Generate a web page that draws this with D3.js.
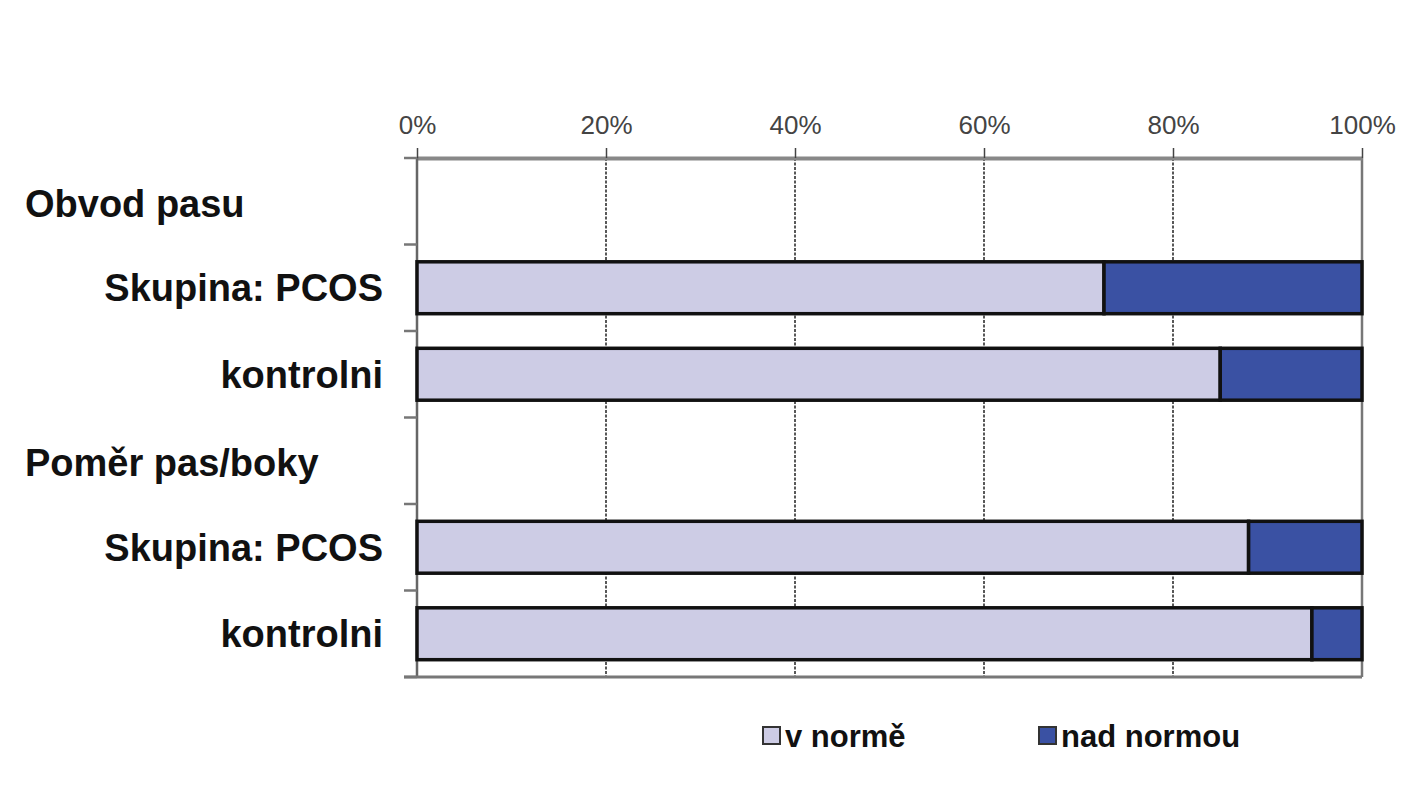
<!DOCTYPE html>
<html>
<head>
<meta charset="utf-8">
<script src="https://cdn.jsdelivr.net/npm/d3@7"></script>
<style>
  body { margin: 0; background: #fff; }
  text { font-family: "Liberation Sans", Arial, sans-serif; }
</style>
</head>
<body>
<svg class="mainsvg" width="1426" height="800"></svg>
<script>
// rows top to bottom, headers have no bar
const rowLabels = ["Obvod pasu", "Skupina: PCOS", "kontrolni", "Poměr pas/boky", "Skupina: PCOS", "kontrolni"];
const rowIsHeader = [true, false, false, true, false, false];
const seriesNames = ["v normě", "nad normou"];
const vNorme = [null, 72.7, 85.0, null, 88.0, 94.7];
const nadNormou = [null, 27.3, 15.0, null, 12.0, 5.3];
const xTicks = [0, 20, 40, 60, 80, 100];

const colors = ["#cdcce5", "#3a51a3"];

const svg = d3.select('.mainsvg');
const plotLeft = 417, plotRight = 1362, plotTop = 158, plotBottom = 677;

const x = d3.scaleLinear().domain([0, 100]).range([plotLeft, plotRight]);
const y = d3.scaleBand().domain(d3.range(rowLabels.length)).range([plotTop, plotBottom]).padding(0);

// grid lines
svg.append('g')
	.selectAll('line')
	.data(xTicks.filter(d => d > 0 && d < 100))
	.enter().append('line')
	.attr('x1', d => x(d)).attr('x2', d => x(d))
	.attr('y1', plotTop).attr('y2', plotBottom)
	.attr('stroke', '#222')
	.attr('stroke-width', 1.5)
	.attr('stroke-dasharray', '3,1.5');

svg.append('line')
	.attr('x1', x(100)).attr('x2', x(100))
	.attr('y1', plotTop).attr('y2', plotBottom)
	.attr('stroke', '#777')
	.attr('stroke-width', 2.5);

// top axis
const xAxis = svg.append('g')
	.attr('transform', 'translate(0,' + plotTop + ')')
	.call(d3.axisTop(x).tickValues(xTicks).tickFormat(d => d + '%').tickSize(10).tickSizeOuter(0));
xAxis.select('.domain').attr('stroke', '#888').attr('stroke-width', 4);
xAxis.selectAll('.tick line').attr('stroke', '#444').attr('stroke-width', 1.5);
xAxis.selectAll('.tick text')
	.attr('font-size', '26px')
	.attr('fill', '#444')
	.attr('y', -24);

// left axis with ticks on band boundaries
const boundaries = d3.range(rowLabels.length + 1).map(i => i < rowLabels.length ? y(i) : plotBottom);
svg.append('line')
	.attr('x1', plotLeft).attr('x2', plotLeft)
	.attr('y1', plotTop).attr('y2', plotBottom)
	.attr('stroke', '#666')
	.attr('stroke-width', 2.5);
svg.append('g')
	.selectAll('line')
	.data(boundaries)
	.enter().append('line')
	.attr('x1', plotLeft - 13).attr('x2', plotLeft)
	.attr('y1', d => d).attr('y2', d => d)
	.attr('stroke', '#777')
	.attr('stroke-width', 2.5);

// bottom line
svg.append('line')
	.attr('x1', plotLeft - 13).attr('x2', plotRight)
	.attr('y1', plotBottom).attr('y2', plotBottom)
	.attr('stroke', '#777')
	.attr('stroke-width', 3);

// bars
const barH = y.bandwidth() * 0.6;
const stackData = rowLabels.map((d, i) => ({ i: i, a: vNorme[i], b: nadNormou[i] })).filter(d => !rowIsHeader[d.i]);
const bars = svg.append('g');
stackData.forEach(function (d) {
	const yy = y(d.i) + (y.bandwidth() - barH) / 2;
	bars.append('rect')
		.attr('x', x(0)).attr('y', yy)
		.attr('width', x(d.a) - x(0)).attr('height', barH)
		.attr('fill', colors[0])
		.attr('stroke', '#111').attr('stroke-width', 3.5);
	bars.append('rect')
		.attr('x', x(d.a)).attr('y', yy)
		.attr('width', x(d.a + d.b) - x(d.a)).attr('height', barH)
		.attr('fill', colors[1])
		.attr('stroke', '#111').attr('stroke-width', 3.5);
});

// row labels
svg.append('g')
	.selectAll('text')
	.data(rowLabels)
	.enter().append('text')
	.attr('x', (d, i) => rowIsHeader[i] ? 25 : 383)
	.attr('y', (d, i) => y(i) + y.bandwidth() / 2 + (rowIsHeader[i] ? 2 : 0))
	.attr('dy', '0.36em')
	.attr('font-size', '38px')
	.attr('font-weight', '700')
	.attr('fill', '#111')
	.style('text-anchor', (d, i) => rowIsHeader[i] ? 'start' : 'end')
	.text(d => d);

// legend
const legendX = [763, 1039];
const legend = svg.append('g');
seriesNames.forEach(function (name, i) {
	legend.append('rect')
		.attr('x', legendX[i]).attr('y', 727)
		.attr('width', 17).attr('height', 17)
		.attr('fill', colors[i])
		.attr('stroke', '#333').attr('stroke-width', 2);
	legend.append('text')
		.attr('x', legendX[i] + 22).attr('y', 736)
		.attr('dy', '0.36em')
		.attr('font-size', '31px')
		.attr('font-weight', '700')
		.attr('fill', '#111')
		.text(name);
});
</script>
</body>
</html>
